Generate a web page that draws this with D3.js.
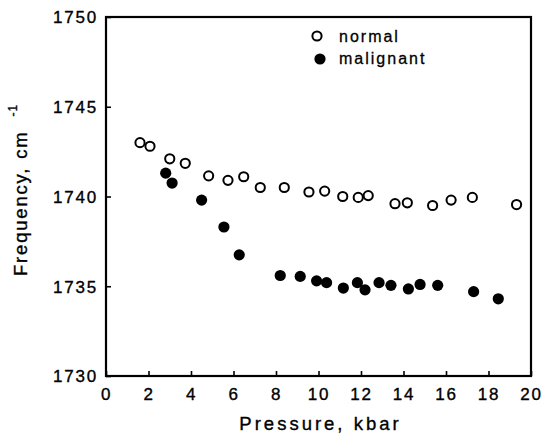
<!DOCTYPE html>
<html><head><meta charset="utf-8">
<script src="https://cdn.jsdelivr.net/npm/d3@7"></script>
<style>body{margin:0;background:#fff}text{font-family:"Liberation Sans",Arial,sans-serif;fill:#000}</style>
</head><body><svg id="c" width="545" height="433"></svg>
<script>
const normalP = [1.60,2.07,3.00,3.73,4.83,5.74,6.48,7.26,8.39,9.55,10.29,11.14,11.87,12.34,13.60,14.18,15.37,16.24,17.24,19.32];
const normalF = [1743.0,1742.8,1742.1,1741.85,1741.15,1740.9,1741.1,1740.5,1740.5,1740.25,1740.3,1740.0,1739.95,1740.05,1739.6,1739.65,1739.5,1739.8,1739.95,1739.55];
const malignantP = [2.81,3.11,4.50,5.55,6.27,8.20,9.14,9.91,10.38,11.17,11.83,12.19,12.85,13.41,14.23,14.78,15.61,17.30,18.46];
const malignantF = [1741.3,1740.75,1739.8,1738.3,1736.75,1735.6,1735.55,1735.3,1735.2,1734.9,1735.2,1734.8,1735.2,1735.05,1734.85,1735.1,1735.05,1734.7,1734.3];
const xTicks = [0,2,4,6,8,10,12,14,16,18,20];
const yTicks = [1730,1735,1740,1745,1750];
const seriesNames = ["normal","malignant"];

const svg = d3.select("#c");
const L=106,R=531,T=17,B=376;
const x = d3.scaleLinear().domain([0,20]).range([L,R]);
const y = d3.scaleLinear().domain([1730,1750]).range([B,T]);

svg.append("rect").attr("x",L).attr("y",T).attr("width",R-L).attr("height",B-T)
  .attr("fill","none").attr("stroke","#000").attr("stroke-width",2.2);

const xa = svg.append("g").attr("transform",`translate(0,${B})`)
  .call(d3.axisBottom(x).tickValues(xTicks).tickSizeInner(-5).tickSizeOuter(0).tickPadding(12).tickFormat(d3.format("d")));
const ya = svg.append("g").attr("transform",`translate(${L},0)`)
  .call(d3.axisLeft(y).tickValues(yTicks).tickSizeInner(-5).tickSizeOuter(0).tickPadding(8).tickFormat(d3.format("d")));
[xa,ya].forEach(a=>{
  a.select(".domain").remove();
  a.selectAll(".tick line").attr("stroke","#000").attr("stroke-width",1.6);
  a.selectAll("text").attr("font-size",17).attr("letter-spacing",1.8)
    .style("font-family","'Liberation Sans',Arial,sans-serif").attr("fill","#000")
    .attr("stroke","#000").attr("stroke-width",0.35);
});
ya.selectAll("text").attr("dy","0.35em");

svg.append("text").attr("x",(L+R)/2+2).attr("y",430).attr("text-anchor","middle")
  .attr("font-size",18.5).attr("letter-spacing",3).attr("stroke","#000").attr("stroke-width",0.35).text("Pressure, kbar");
const yt = svg.append("text").attr("transform",`translate(27,276) rotate(-90)`).attr("text-anchor","start")
  .attr("font-size",18.5).attr("letter-spacing",1.8).attr("stroke","#000").attr("stroke-width",0.35);
yt.append("tspan").text("Frequency,");
yt.append("tspan").attr("dx",8).text("cm");
yt.append("tspan").attr("dx",14).attr("dy",-10).attr("font-size",12).attr("letter-spacing",1).text("-1");

svg.append("g").selectAll("circle").data(normalP.map((p,i)=>[p,normalF[i]])).join("circle")
  .attr("cx",d=>x(d[0])).attr("cy",d=>y(d[1])).attr("r",4.6)
  .attr("fill","#fff").attr("stroke","#000").attr("stroke-width",2);
svg.append("g").selectAll("circle").data(malignantP.map((p,i)=>[p,malignantF[i]])).join("circle")
  .attr("cx",d=>x(d[0])).attr("cy",d=>y(d[1])).attr("r",5.6).attr("fill","#000");

const lg = svg.append("g");
lg.append("circle").attr("cx",317).attr("cy",36).attr("r",4.6).attr("fill","#fff").attr("stroke","#000").attr("stroke-width",2);
lg.append("circle").attr("cx",320).attr("cy",59).attr("r",5.6).attr("fill","#000");
lg.append("text").attr("x",339).attr("y",42).attr("font-size",16).attr("letter-spacing",2).attr("stroke","#000").attr("stroke-width",0.3).text(seriesNames[0]);
lg.append("text").attr("x",339).attr("y",64).attr("font-size",16).attr("letter-spacing",2).attr("stroke","#000").attr("stroke-width",0.3).text(seriesNames[1]);
</script></body></html>
